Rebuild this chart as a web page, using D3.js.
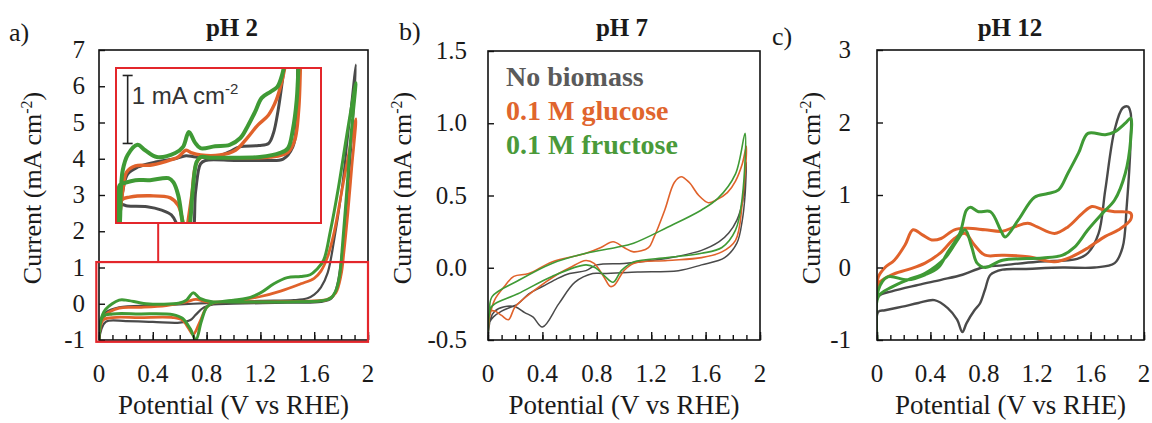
<!DOCTYPE html>
<html><head><meta charset="utf-8">
<script src="https://cdn.jsdelivr.net/npm/d3@7"></script>
<style>
body{margin:0;background:#fff;}
svg{display:block;}
</style></head><body>
<script>
// ---------- DATA (potential V vs RHE, current mA cm-2), forward scan then reverse scan ----------
const xTicks = [0, 0.4, 0.8, 1.2, 1.6, 2];
const xTickLabels = ["0", "0.4", "0.8", "1.2", "1.6", "2"];
const xMinorTicks = [0,0.1,0.2,0.3,0.4,0.5,0.6,0.7,0.8,0.9,1.0,1.1,1.2,1.3,1.4,1.5,1.6,1.7,1.8,1.9,2.0];

const aYTicks = [-1, 0, 1, 2, 3, 4, 5, 6, 7];
const aYTickLabels = ["-1", "0", "1", "2", "3", "4", "5", "6", "7"];
const bYTicks = [-0.5, 0, 0.5, 1.0, 1.5];
const bYTickLabels = ["-0.5", "0.0", "0.5", "1.0", "1.5"];
const cYTicks = [-1, 0, 1, 2, 3];
const cYTickLabels = ["-1", "0", "1", "2", "3"];

const seriesNames = ["No biomass", "0.1 M glucose", "0.1 M fructose"];

// pH 2 main
const a_noBiomass = [[0,-1],[0.01,-0.6],[0.05,-0.25],[0.15,-0.1],[0.4,-0.05],[0.7,0.0],[1.0,0.05],[1.2,0.08],[1.45,0.1],[1.55,0.15],[1.6,0.25],[1.65,0.45],[1.7,0.85],[1.75,1.8],[1.8,3.0],[1.85,4.6],[1.91,6.6],[1.89,5.2],[1.86,3.6],[1.83,2.2],[1.8,1.2],[1.77,0.5],[1.73,0.15],[1.65,0.05],[1.4,0.03],[1.0,0.0],[0.85,-0.02],[0.78,-0.1],[0.72,-0.3],[0.68,-0.45],[0.6,-0.52],[0.4,-0.5],[0.2,-0.48],[0.05,-0.5],[0,-1]];
const a_glucose = [[0,-1],[0.01,-0.6],[0.05,-0.3],[0.15,-0.12],[0.3,-0.1],[0.5,-0.05],[0.65,0.05],[0.72,0.12],[0.8,0.05],[1.0,0.08],[1.2,0.2],[1.35,0.35],[1.5,0.55],[1.6,0.7],[1.65,0.9],[1.7,1.3],[1.75,2.0],[1.8,3.0],[1.86,4.2],[1.91,5.1],[1.88,3.8],[1.85,2.5],[1.82,1.4],[1.8,0.8],[1.76,0.3],[1.7,0.12],[1.6,0.08],[1.2,0.05],[0.85,0.02],[0.8,-0.1],[0.75,-0.5],[0.7,-0.85],[0.67,-0.7],[0.62,-0.45],[0.55,-0.38],[0.3,-0.38],[0.1,-0.38],[0.03,-0.45],[0,-1]];
const a_fructose = [[0,-1],[0.01,-0.5],[0.05,-0.15],[0.15,0.1],[0.2,0.1],[0.35,0.0],[0.6,0.02],[0.65,0.1],[0.7,0.3],[0.75,0.15],[0.85,0.05],[1.0,0.1],[1.1,0.15],[1.2,0.3],[1.3,0.55],[1.4,0.72],[1.5,0.75],[1.57,0.8],[1.62,0.95],[1.67,1.2],[1.72,2.0],[1.78,3.2],[1.84,4.6],[1.91,6.1],[1.87,4.5],[1.84,3.0],[1.81,1.6],[1.79,0.8],[1.76,0.35],[1.72,0.15],[1.65,0.08],[1.4,0.05],[1.0,0.05],[0.85,0.03],[0.8,-0.1],[0.76,-0.5],[0.72,-1.0],[0.68,-0.7],[0.62,-0.4],[0.55,-0.3],[0.3,-0.28],[0.1,-0.28],[0.03,-0.35],[0,-1]];

// pH 2 inset (zoom of the low-current region)
const inset_noBiomass = [[0,-1.2],[0.02,-0.9],[0.05,-0.5],[0.1,-0.25],[0.2,-0.15],[0.4,-0.07],[0.6,-0.02],[0.7,0.02],[0.8,0.0],[1.0,0.0],[1.15,0.08],[1.25,0.15],[1.45,0.17],[1.55,0.2],[1.6,0.35],[1.65,0.7],[1.70,1.2],[1.74,1.6],[1.78,2.0],[1.87,2.0],[1.85,1.3],[1.84,0.5],[1.8,0.15],[1.7,-0.03],[1.5,-0.05],[1.2,-0.05],[0.9,-0.05],[0.85,-0.1],[0.8,-0.5],[0.75,-1.2],[0.65,-1.2],[0.6,-0.97],[0.55,-0.85],[0.45,-0.78],[0.3,-0.73],[0.1,-0.72],[0.02,-0.7],[0,-1.2]];
const inset_glucose = [[0,-1.2],[0.02,-0.85],[0.05,-0.49],[0.09,-0.22],[0.18,-0.13],[0.33,-0.12],[0.48,-0.07],[0.62,0.0],[0.70,0.10],[0.76,0.06],[0.85,0.03],[1.05,0.03],[1.21,0.10],[1.33,0.28],[1.44,0.47],[1.55,0.62],[1.63,0.84],[1.69,1.13],[1.73,1.43],[1.77,2.0],[1.89,2.0],[1.88,1.43],[1.86,0.69],[1.82,0.25],[1.75,0.07],[1.57,0.0],[1.15,-0.01],[0.85,-0.01],[0.80,-0.12],[0.76,-0.56],[0.72,-0.96],[0.70,-1.15],[0.67,-0.96],[0.62,-0.71],[0.54,-0.6],[0.33,-0.57],[0.12,-0.59],[0.04,-0.63],[0,-1.2]];
const inset_fructose = [[0,-1.2],[0.02,-0.97],[0.03,-0.49],[0.05,-0.19],[0.10,0.03],[0.20,0.18],[0.28,0.10],[0.40,0.0],[0.59,0.06],[0.67,0.15],[0.73,0.37],[0.79,0.22],[0.85,0.13],[1.0,0.16],[1.15,0.18],[1.26,0.28],[1.33,0.44],[1.41,0.66],[1.48,0.87],[1.57,0.96],[1.64,1.03],[1.69,1.21],[1.72,1.43],[1.76,2.0],[1.87,2.0],[1.86,1.43],[1.84,0.84],[1.80,0.40],[1.75,0.13],[1.67,0.06],[1.46,0.0],[1.15,-0.01],[0.95,-0.01],[0.85,0.0],[0.81,-0.07],[0.77,-0.49],[0.74,-1.0],[0.71,-1.22],[0.67,-1.0],[0.62,-0.56],[0.57,-0.37],[0.52,-0.31],[0.33,-0.34],[0.18,-0.34],[0.07,-0.38],[0.02,-0.41],[0,-1.2]];

// pH 7
const b_noBiomass = [[0,-0.5],[0.01,-0.38],[0.04,-0.34],[0.1,-0.3],[0.22,-0.25],[0.3,-0.18],[0.4,-0.13],[0.5,-0.08],[0.6,-0.04],[0.72,-0.02],[0.8,0.02],[1.0,0.03],[1.2,0.05],[1.4,0.08],[1.57,0.12],[1.7,0.18],[1.77,0.24],[1.83,0.33],[1.87,0.45],[1.89,0.6],[1.9,0.73],[1.89,0.5],[1.87,0.33],[1.83,0.17],[1.74,0.07],[1.57,0.02],[1.4,-0.02],[1.1,-0.03],[0.85,-0.04],[0.77,-0.04],[0.64,-0.1],[0.52,-0.25],[0.4,-0.41],[0.33,-0.34],[0.27,-0.31],[0.2,-0.27],[0.12,-0.27],[0.05,-0.3],[0.02,-0.35],[0,-0.5]];
const b_glucose = [[0,-0.5],[0.01,-0.35],[0.05,-0.22],[0.12,-0.13],[0.19,-0.06],[0.3,-0.04],[0.47,0.04],[0.72,0.10],[0.83,0.14],[0.92,0.18],[1.0,0.14],[1.07,0.11],[1.18,0.14],[1.22,0.21],[1.3,0.4],[1.37,0.59],[1.42,0.63],[1.48,0.59],[1.55,0.5],[1.62,0.45],[1.68,0.47],[1.76,0.52],[1.82,0.6],[1.87,0.72],[1.9,0.84],[1.87,0.45],[1.82,0.19],[1.72,0.11],[1.57,0.07],[1.32,0.05],[1.07,0.03],[1.0,-0.02],[0.93,-0.12],[0.9,-0.13],[0.85,-0.06],[0.78,0.03],[0.72,0.05],[0.6,0.0],[0.52,-0.04],[0.35,-0.15],[0.2,-0.27],[0.15,-0.36],[0.1,-0.33],[0.05,-0.3],[0.02,-0.3],[0,-0.5]];
const b_fructose = [[0,-0.5],[0.01,-0.3],[0.03,-0.2],[0.22,-0.09],[0.47,0.03],[0.72,0.10],[0.94,0.14],[1.07,0.17],[1.32,0.28],[1.57,0.4],[1.69,0.48],[1.82,0.65],[1.89,0.93],[1.87,0.49],[1.82,0.26],[1.72,0.14],[1.57,0.1],[1.32,0.07],[1.07,0.04],[0.98,-0.02],[0.92,-0.1],[0.86,-0.06],[0.79,0.0],[0.72,0.02],[0.47,-0.06],[0.22,-0.18],[0.05,-0.25],[0.02,-0.28],[0,-0.5]];

// pH 12
const c_noBiomass = [[0,-1],[0.01,-0.4],[0.11,-0.33],[0.31,-0.24],[0.48,-0.17],[0.64,-0.1],[0.79,0.0],[0.94,0.03],[1.2,0.08],[1.5,0.12],[1.58,0.2],[1.66,0.47],[1.71,1.07],[1.78,1.9],[1.84,2.2],[1.88,2.22],[1.9,2.13],[1.9,1.76],[1.87,0.83],[1.84,0.28],[1.78,0.06],[1.63,0.0],[1.39,0.0],[1.1,-0.02],[0.94,-0.03],[0.85,-0.1],[0.81,-0.3],[0.77,-0.5],[0.73,-0.59],[0.67,-0.77],[0.64,-0.89],[0.6,-0.72],[0.53,-0.56],[0.43,-0.45],[0.31,-0.49],[0.19,-0.54],[0.06,-0.59],[0.01,-0.61],[0,-1]];
const c_glucose = [[0,-0.3],[0.01,-0.13],[0.06,0.0],[0.13,0.1],[0.21,0.31],[0.27,0.52],[0.34,0.45],[0.41,0.38],[0.48,0.4],[0.58,0.52],[0.68,0.54],[0.81,0.52],[0.94,0.5],[1.03,0.56],[1.13,0.61],[1.2,0.56],[1.33,0.47],[1.43,0.56],[1.54,0.75],[1.61,0.84],[1.69,0.8],[1.78,0.77],[1.9,0.75],[1.9,0.66],[1.81,0.52],[1.71,0.43],[1.58,0.27],[1.46,0.15],[1.33,0.08],[1.13,0.15],[0.94,0.17],[0.81,0.17],[0.73,0.31],[0.66,0.47],[0.58,0.4],[0.48,0.21],[0.36,0.06],[0.23,-0.03],[0.11,-0.1],[0.01,-0.22],[0,-0.3]];
const c_fructose = [[0,-1],[0.01,-0.31],[0.08,-0.13],[0.23,-0.17],[0.36,-0.1],[0.46,0.0],[0.53,0.21],[0.62,0.47],[0.67,0.79],[0.7,0.83],[0.76,0.77],[0.85,0.77],[0.93,0.5],[0.96,0.42],[1.06,0.66],[1.18,0.97],[1.28,1.02],[1.36,1.07],[1.43,1.3],[1.51,1.58],[1.58,1.85],[1.71,1.83],[1.78,1.87],[1.86,1.99],[1.9,2.06],[1.9,1.76],[1.86,1.3],[1.78,0.93],[1.69,0.75],[1.58,0.52],[1.48,0.28],[1.39,0.17],[1.24,0.13],[0.94,0.1],[0.81,0.0],[0.75,0.06],[0.71,0.28],[0.66,0.52],[0.61,0.4],[0.51,0.13],[0.36,-0.08],[0.23,-0.17],[0.11,-0.27],[0.01,-0.4],[0,-1]];

const colNo = "#4a4a4a", colGlu = "#e0622b", colFru = "#3f9a35";
const SERIF = "'Liberation Serif', 'Times New Roman', Times, serif";

// ---------- DRAW ----------
const svg = d3.select("body").append("svg").attr("width", 1152).attr("height", 423)
  .attr("font-family", SERIF);
const curve = d3.curveCatmullRom.alpha(0.5);

function txt(sel) { return sel.append("text").style("font-family", SERIF).style("fill", "#1a1a1a"); }

function drawPanel(p) {
  const g = svg.append("g");
  const x = d3.scaleLinear().domain([0, 2]).range([p.left, p.right]);
  const y = d3.scaleLinear().domain(p.yDomain).range([p.bottom, p.top]);
  const clipId = "clip-" + p.id;
  svg.append("clipPath").attr("id", clipId).append("rect")
    .attr("x", p.left).attr("y", p.top).attr("width", p.right - p.left).attr("height", p.bottom - p.top);
  const line = d3.line().x(d => x(d[0])).y(d => y(d[1])).curve(curve);
  const lg = g.append("g").attr("clip-path", `url(#${clipId})`);
  p.series.forEach(s => lg.append("path").attr("d", line(s.data)).attr("fill", "none")
    .attr("stroke", s.color).attr("stroke-width", s.width).attr("stroke-linejoin", "round").attr("stroke-linecap", "round"));

  const minor = d3.axisBottom(x).tickValues(xMinorTicks).tickSize(-5).tickFormat("");
  const major = d3.axisBottom(x).tickValues(xTicks).tickSize(-8).tickFormat("");
  [minor, major].forEach(ax => {
    const a = g.append("g").attr("transform", `translate(0,${p.bottom})`).call(ax);
    a.select(".domain").remove();
    a.selectAll("line").attr("stroke", "#111").attr("stroke-width", 1.4);
  });
  const yAx = d3.axisLeft(y).tickValues(p.yTicks).tickSize(-6).tickFormat("");
  const ya = g.append("g").attr("transform", `translate(${p.left},0)`).call(yAx);
  ya.select(".domain").remove();
  ya.selectAll("line").attr("stroke", "#111").attr("stroke-width", 1.4);

  g.append("rect").attr("x", p.left).attr("y", p.top).attr("width", p.right - p.left).attr("height", p.bottom - p.top)
    .attr("fill", "none").attr("stroke", "#111").attr("stroke-width", 1.6);

  xTicks.forEach((d, i) => txt(g).attr("x", x(d)).attr("y", p.bottom + 42).attr("text-anchor", "middle")
    .attr("font-size", 25).text(xTickLabels[i]));
  p.yTicks.forEach((d, i) => txt(g).attr("x", p.left - p.gap).attr("y", y(d) + 8).attr("text-anchor", "end")
    .attr("font-size", 25).text(p.yTickLabels[i]));

  txt(g).attr("x", (p.left + p.right) / 2).attr("y", 414).attr("text-anchor", "middle")
    .attr("font-size", 27).text("Potential (V vs RHE)");
  const yt = txt(g).attr("transform", `translate(${p.ylabX},188) rotate(-90)`)
    .attr("text-anchor", "middle").attr("font-size", 26);
  yt.append("tspan").text("Current (mA cm");
  yt.append("tspan").attr("font-size", 16).attr("dy", -9).text("-2");
  yt.append("tspan").attr("dy", 9).text(")");

  txt(g).attr("x", p.titleX).attr("y", 36).attr("text-anchor", "middle")
    .attr("font-size", 25).attr("font-weight", "bold").text(p.title);
  txt(g).attr("x", p.letterX).attr("y", p.letterY).attr("font-size", 26).text(p.letter);
  return {g, x, y};
}

const A = drawPanel({id: "a", left: 99, right: 368, top: 50, bottom: 340, yDomain: [-1, 7],
  yTicks: aYTicks, yTickLabels: aYTickLabels, gap: 14, ylabX: 41, title: "pH 2", titleX: 232,
  letter: "a)", letterX: 9, letterY: 41,
  series: [{data: a_noBiomass, color: colNo, width: 2.2}, {data: a_glucose, color: colGlu, width: 2.8}, {data: a_fructose, color: colFru, width: 3}]});

const B = drawPanel({id: "b", left: 488, right: 760, top: 51, bottom: 340, yDomain: [-0.5, 1.5],
  yTicks: bYTicks, yTickLabels: bYTickLabels, gap: 21, ylabX: 411, title: "pH 7", titleX: 622,
  letter: "b)", letterX: 399, letterY: 40,
  series: [{data: b_noBiomass, color: colNo, width: 1.5}, {data: b_glucose, color: colGlu, width: 1.6}, {data: b_fructose, color: colFru, width: 1.6}]});

const C = drawPanel({id: "c", left: 877, right: 1144, top: 50, bottom: 340, yDomain: [-1, 3],
  yTicks: cYTicks, yTickLabels: cYTickLabels, gap: 26, ylabX: 820, title: "pH 12", titleX: 1010,
  letter: "c)", letterX: 772, letterY: 45,
  series: [{data: c_noBiomass, color: colNo, width: 2.4}, {data: c_glucose, color: colGlu, width: 3}, {data: c_fructose, color: colFru, width: 3}]});

// legend (panel b)
const legColors = ["#5a5a5a", "#e0652d", "#4a9a3a"];
const legBase = [86, 120, 154];
seriesNames.forEach((n, i) => {
  B.g.append("text").attr("x", 506).attr("y", legBase[i]).attr("font-size", 28).attr("font-weight", "bold")
    .style("font-family", SERIF).style("fill", legColors[i]).text(n);
});

// ---------- inset in panel a ----------
const red = "#e3262b";
const ix = d3.scaleLinear().domain([-0.02, 2.09]).range([116, 321]);
const iy = d3.scaleLinear().domain([-0.97, 1.31]).range([223, 68]);
svg.append("clipPath").attr("id", "clip-inset").append("rect").attr("x", 116).attr("y", 68).attr("width", 205).attr("height", 155);
const iline = d3.line().x(d => ix(d[0])).y(d => iy(d[1])).curve(curve);
svg.append("rect").attr("x", 116).attr("y", 68).attr("width", 205).attr("height", 155).attr("fill", "#fff");
const ig = svg.append("g").attr("clip-path", "url(#clip-inset)");
[[inset_noBiomass, colNo, 3], [inset_glucose, colGlu, 3.4], [inset_fructose, colFru, 4]].forEach(s => {
  ig.append("path").attr("d", iline(s[0])).attr("fill", "none").attr("stroke", s[1]).attr("stroke-width", s[2]).attr("stroke-linejoin", "round");
});
svg.append("rect").attr("x", ix(-0.02)).attr("y", iy(1.31)).attr("width", ix(2.09) - ix(-0.02)).attr("height", iy(-0.97) - iy(1.31))
  .attr("fill", "none").attr("stroke", red).attr("stroke-width", 2);
const sbx = ix(0.1);
const sb = svg.append("g").attr("stroke", "#222").attr("stroke-width", 1.6);
sb.append("line").attr("x1", sbx).attr("x2", sbx).attr("y1", iy(1.2)).attr("y2", iy(0.2));
sb.append("line").attr("x1", sbx - 5).attr("x2", sbx + 5).attr("y1", iy(1.2)).attr("y2", iy(1.2));
sb.append("line").attr("x1", sbx - 5).attr("x2", sbx + 5).attr("y1", iy(0.2)).attr("y2", iy(0.2));
const sbt = svg.append("text").attr("x", sbx + 4).attr("y", 104).attr("font-size", 24)
  .style("font-family", "'Liberation Sans', Arial, sans-serif").style("fill", "#333");
sbt.append("tspan").text("1 mA cm");
sbt.append("tspan").attr("font-size", 15).attr("dy", -10).text("-2");

// zoom region in main panel a + connector
const zx0 = A.x(-0.02), zx1 = A.x(2.0), zy0 = A.y(1.15), zy1 = A.y(-1.05);
svg.append("rect").attr("x", zx0).attr("y", zy0).attr("width", zx1 - zx0).attr("height", zy1 - zy0)
  .attr("fill", "none").attr("stroke", red).attr("stroke-width", 2.2);
svg.append("line").attr("x1", A.x(0.44)).attr("x2", A.x(0.44)).attr("y1", iy(-0.97)).attr("y2", zy0)
  .attr("stroke", red).attr("stroke-width", 2);
</script>
</body></html>
